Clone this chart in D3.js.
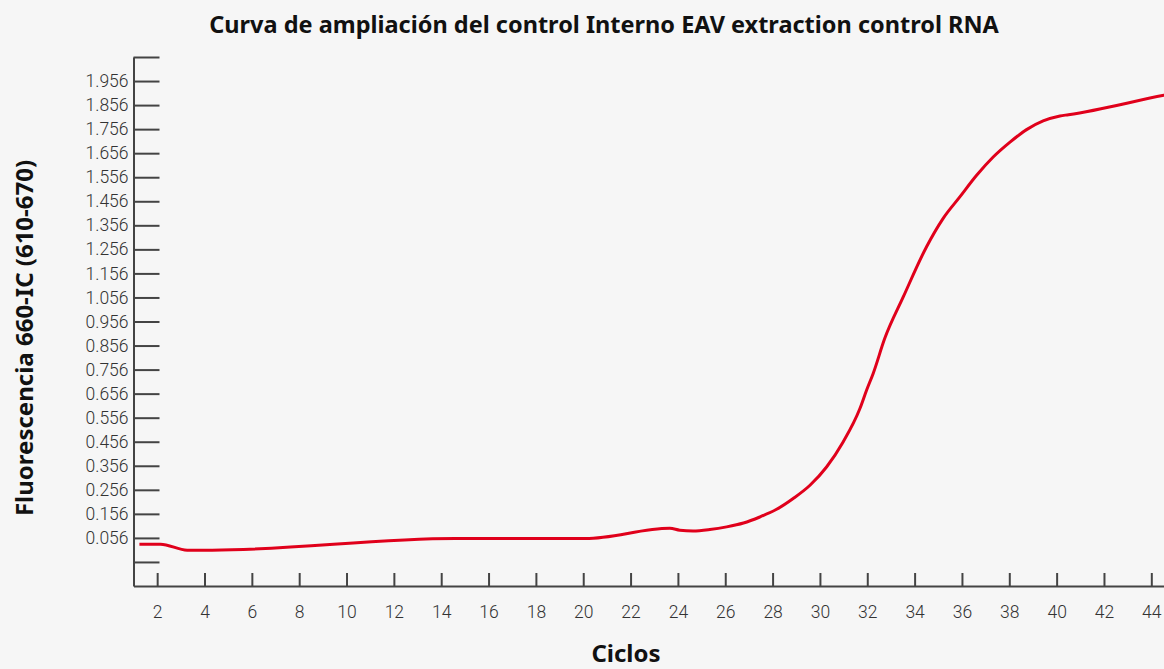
<!DOCTYPE html>
<html>
<head>
<meta charset="utf-8">
<script src="https://cdn.jsdelivr.net/npm/d3@7"></script>
<style>
  html, body { margin: 0; padding: 0; background: #f6f6f6; }
  svg { display: block; }
  .tick text { font-family: Roboto, "Noto Sans", sans-serif; font-weight: 300; font-size: 17.5px; fill: #333; }
  .tick line { stroke: #444; stroke-width: 2; }
  .domain { stroke: #444; stroke-width: 2; }
  .lbl { font-family: "Noto Sans", "Open Sans", sans-serif; font-weight: 700; fill: #111; }
</style>
</head>
<body>
<svg id="canvas" width="1164" height="669"></svg>
<script>
let title = "Curva de ampliación del control Interno EAV extraction control RNA"
let xLabel = "Ciclos"
let yLabel = "Fluorescencia 660-IC (610-670)"

// ciclo, fluorescencia
let cycles = [1.25, 2.14, 3.27, 4.32, 14.59, 20.09, 23.66, 24.08, 24.64, 25.35, 26.06, 26.77, 27.46, 28.17, 28.87, 29.58, 30.28, 30.98, 31.69, 31.97, 32.25, 32.74, 33.52, 34.5, 35.2, 35.91, 36.62, 37.32, 38.03, 38.73, 39.43, 40.14, 40.5, 44.53, 45]
let fluor  = [0.030, 0.030, 0.005, 0.005, 0.0535, 0.0535, 0.096, 0.088, 0.085, 0.091, 0.102, 0.118, 0.143, 0.175, 0.220, 0.275, 0.351, 0.455, 0.594, 0.670, 0.740, 0.886, 1.058, 1.266, 1.384, 1.474, 1.564, 1.640, 1.702, 1.754, 1.790, 1.811, 1.816, 1.897, 1.906]

let xTicks = [2, 4, 6, 8, 10, 12, 14, 16, 18, 20, 22, 24, 26, 28, 30, 32, 34, 36, 38, 40, 42, 44]
let yTicks = [-0.044, 0.056, 0.156, 0.256, 0.356, 0.456, 0.556, 0.656, 0.756, 0.856, 0.956, 1.056, 1.156, 1.256, 1.356, 1.456, 1.556, 1.656, 1.756, 1.856, 1.956, 2.056]
let yTickLabels = ["", "0.056", "0.156", "0.256", "0.356", "0.456", "0.556", "0.656", "0.756", "0.856", "0.956", "1.056", "1.156", "1.256", "1.356", "1.456", "1.556", "1.656", "1.756", "1.856", "1.956", ""]

let canvas = d3.select('#canvas')

let x = d3.scaleLinear().domain([1, 45]).range([133.5, 133.5 + 44 * 23.67])
let y = d3.scaleLinear().domain([-0.144, 2.056]).range([586, 57])

// eje x
canvas.append('g')
  .attr('transform', 'translate(0,586)')
  .call(d3.axisBottom(x).tickValues(xTicks).tickSizeInner(-13).tickSizeOuter(0).tickPadding(20))

// eje y
canvas.append('g')
  .attr('transform', 'translate(133.5,0)')
  .call(d3.axisLeft(y).tickValues(yTicks).tickSizeInner(-26).tickSizeOuter(0).tickPadding(5)
    .tickFormat((d, i) => yTickLabels[i]))

let data = cycles.map((c, i) => [c, fluor[i]])

let line = d3.line()
  .x(d => x(d[0]))
  .y(d => y(d[1]))
  .curve(d3.curveMonotoneX)

canvas.append('path')
  .datum(data)
  .attr('d', line)
  .attr('fill', 'none')
  .attr('stroke', '#e0001b')
  .attr('stroke-width', 3)
  .attr('stroke-linejoin', 'round')

canvas.append('text')
  .attr('class', 'lbl')
  .attr('x', 604).attr('y', 33)
  .attr('text-anchor', 'middle')
  .style('font-size', '23.5px')
  .text(title)

canvas.append('text')
  .attr('class', 'lbl')
  .attr('x', 626).attr('y', 662)
  .attr('text-anchor', 'middle')
  .style('font-size', '24px')
  .text(xLabel)

canvas.append('text')
  .attr('class', 'lbl')
  .attr('transform', 'translate(33,338) rotate(-90)')
  .attr('text-anchor', 'middle')
  .style('font-size', '24px')
  .text(yLabel)
</script>
</body>
</html>
